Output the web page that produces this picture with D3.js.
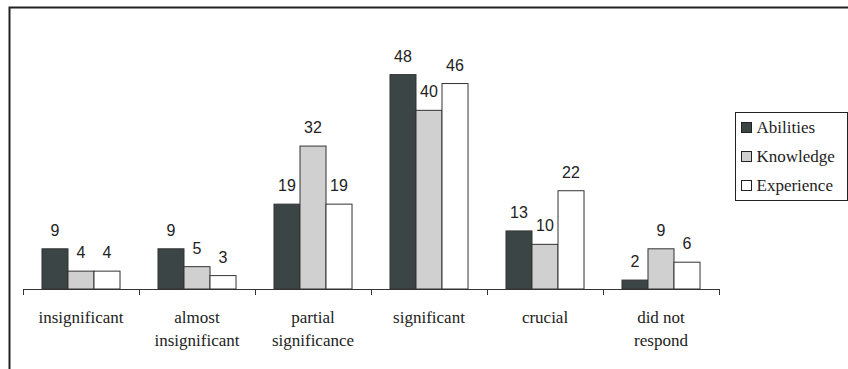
<!DOCTYPE html>
<html>
<head>
<meta charset="utf-8">
<script src="https://cdn.jsdelivr.net/npm/d3@7"></script>
<style>
  body { margin: 0; background: #fff; }
  svg { display: block; }
</style>
</head>
<body>
<svg id="chart" width="848" height="369"></svg>
<script>
// data
var categories = [["insignificant"], ["almost", "insignificant"], ["partial", "significance"],
                  ["significant"], ["crucial"], ["did not", "respond"]];
var series = ["Abilities", "Knowledge", "Experience"];
var abilities  = [9, 9, 19, 48, 13, 2];
var knowledge  = [4, 5, 32, 40, 10, 9];
var experience = [4, 3, 19, 46, 22, 6];
var colors = ["#3c4546", "#d0d0d0", "#ffffff"];

var serif = "'Liberation Serif', 'Times New Roman', serif";
var sans = "'Liberation Sans', Arial, sans-serif";

var values = [abilities, knowledge, experience];
var svg = d3.select("#chart");

// outer frame (only top and left visible)
svg.append("path")
    .attr("d", "M9.5,369 V7.5 H848")
    .attr("fill", "none")
    .attr("stroke", "#222")
    .attr("stroke-width", 2);

var x0 = d3.scaleBand().domain(d3.range(categories.length)).range([23, 719]);
var x1 = d3.scaleBand().domain(d3.range(series.length))
    .range([0, x0.bandwidth()]).paddingOuter(0.73).paddingInner(0);
var y = d3.scaleLinear().domain([0, 60]).range([289, 21]);

var g = svg.append("g");

categories.forEach(function(cat, i) {
    series.forEach(function(s, j) {
        var v = values[j][i];
        g.append("rect")
            .attr("x", x0(i) + x1(j))
            .attr("y", y(v))
            .attr("width", x1.bandwidth())
            .attr("height", y(0) - y(v))
            .attr("fill", colors[j])
            .attr("stroke", "#333")
            .attr("stroke-width", 1);
        g.append("text")
            .style("font-family", sans)
            .style("font-size", "16px")
            .attr("x", x0(i) + x1(j) + x1.bandwidth() / 2)
            .attr("y", y(v) - 13)
            .attr("text-anchor", "middle")
            .attr("fill", "#222")
            .text(v);
    });
});

// x axis with ticks at category boundaries
var axisG = svg.append("g");
axisG.append("line")
    .attr("x1", 23).attr("x2", 719)
    .attr("y1", 289.5).attr("y2", 289.5)
    .attr("stroke", "#333");
d3.range(categories.length + 1).forEach(function(i) {
    var xx = Math.round(i < categories.length ? x0(i) : x0.range()[1]) + 0.5;
    axisG.append("line")
        .attr("x1", xx).attr("x2", xx)
        .attr("y1", 289).attr("y2", 295)
        .attr("stroke", "#333");
});

categories.forEach(function(cat, i) {
    cat.forEach(function(line, k) {
        svg.append("text")
            .style("font-family", serif)
            .style("font-size", "17px")
            .attr("text-anchor", "middle")
            .attr("fill", "#222")
            .attr("x", x0(i) + x0.bandwidth() / 2)
            .attr("y", 323 + k * 23)
            .text(line);
    });
});

// legend
var leg = svg.append("g").attr("transform", "translate(735.5,112.5)");
leg.append("rect")
    .attr("width", 112).attr("height", 88)
    .attr("fill", "#fff").attr("stroke", "#222");
series.forEach(function(s, j) {
    var row = leg.append("g").attr("transform", "translate(6," + (10 + j * 29) + ")");
    row.append("rect")
        .attr("width", 10).attr("height", 10)
        .attr("fill", colors[j]).attr("stroke", "#222");
    row.append("text")
        .style("font-family", serif)
        .style("font-size", "17px")
        .attr("x", 15).attr("y", 10)
        .attr("fill", "#222")
        .text(s);
});
</script>
</body>
</html>
